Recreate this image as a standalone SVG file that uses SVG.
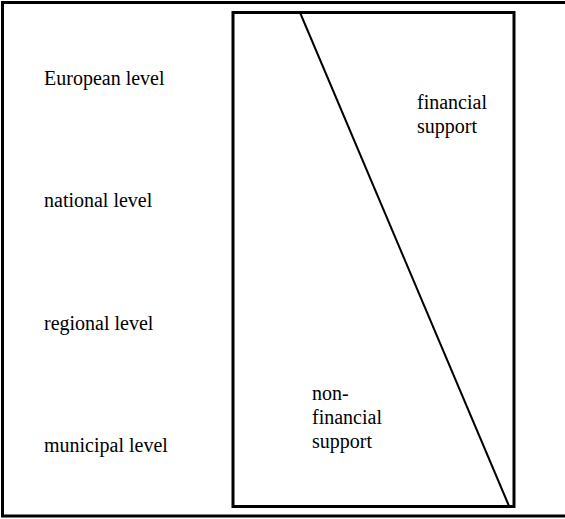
<svg xmlns="http://www.w3.org/2000/svg" width="565" height="519" viewBox="0 0 565 519">
<style>
.lbl{font-family:'Liberation Serif','Times New Roman',Times,serif;font-size:20px;fill:#000}
.frame{fill:none;stroke:#000;stroke-width:3}
</style>
<rect width="565" height="519" fill="#fff"/>
<rect class="frame" x="2.5" y="2.5" width="566" height="513.5"/>
<g id="levels" class="lbl" font-family="Liberation Serif, serif">
<text x="44" y="85">European level</text>
<text x="44" y="207">national level</text>
<text x="44" y="330">regional level</text>
<text x="44" y="452">municipal level</text>
</g>
<g id="panel">
<rect class="frame" x="233" y="12.5" width="281" height="494"/>
</g>
<g id="connectors">
<line x1="300" y1="12.5" x2="509" y2="506" stroke="#000" stroke-width="2"/>
</g>
<g id="financial" class="lbl" font-family="Liberation Serif, serif">
<text x="417" y="109">financial</text>
<text x="417" y="133">support</text>
</g>
<g id="nonfinancial" class="lbl" font-family="Liberation Serif, serif">
<text x="312" y="400">non-</text>
<text x="312" y="424">financial</text>
<text x="312" y="448">support</text>
</g>
</svg>
